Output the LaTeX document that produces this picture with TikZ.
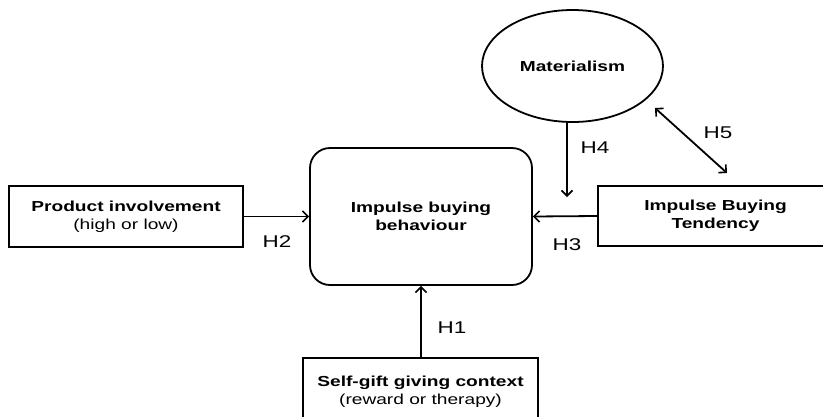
\documentclass[tikz,border=0pt]{standalone}
\usepackage{fontspec}
\setmainfont{Liberation Sans}[FakeStretch=1.32]
\usetikzlibrary{arrows.meta,shapes.geometric}
\tikzset{
  box/.style={draw, line width=1.8pt, align=center, inner sep=0pt,
    font=\fontsize{14.5}{18}\selectfont},
  tip/.style={Straight Barb[length=5pt,width=10pt,line width=1.6pt]},
  conn/.style={line width=1.8pt, -{Straight Barb[length=5.5pt,width=11pt,line width=1.6pt]}},
  dconn/.style={line width=1.8pt, {Straight Barb[length=5.5pt,width=11pt,line width=1.6pt]}-{Straight Barb[length=5.5pt,width=11pt,line width=1.6pt]}},
  hlab/.style={font=\fontsize{17}{18}\selectfont, inner sep=0pt}
}
\begin{document}
\begin{tikzpicture}[x=1pt,y=-1pt]
\useasboundingbox (0,0) rectangle (823,416);
\clip (0,0) rectangle (823,416);
\node[box, minimum width=234pt, minimum height=61pt] (prod) at (126,216.5)
  {\textbf{Product involvement}\\(high or low)};
\node[box, rounded corners=20pt, minimum width=222pt, minimum height=137pt] (ibb) at (421,216.5)
  {\textbf{Impulse buying}\\\textbf{behaviour}};
\node[box, ellipse, minimum width=181pt, minimum height=112pt] (mat) at (572.5,66)
  {\textbf{Materialism}};
\node[box, minimum width=235pt, minimum height=60pt] (ibt) at (715.5,216)
  {\textbf{Impulse Buying}\\\textbf{Tendency}};
\node[box, minimum width=235pt, minimum height=68pt] (self) at (420.5,392)
  {\textbf{Self-gift giving context}\\(reward or therapy)};
\coordinate (h4end) at (567,197);
\coordinate (h5a) at (655,108);
\coordinate (h5b) at (727,173);
\draw[conn] (prod.east) -- (ibb.west);
\draw[conn] (ibt.west) -- (ibb.east);
\draw[conn] (mat.south -| h4end) -- (h4end);
\draw[dconn] (h5b) -- (h5a);
\draw[conn] (self.north -| ibb.south) -- (ibb.south);
\node[hlab] (l2) at (277,242) {H2};
\node[hlab] (l3) at (567,245) {H3};
\node[hlab] (l4) at (595,148) {H4};
\node[hlab] (l5) at (718,133) {H5};
\node[hlab] (l1) at (452,328) {H1};
\end{tikzpicture}
\end{document}
